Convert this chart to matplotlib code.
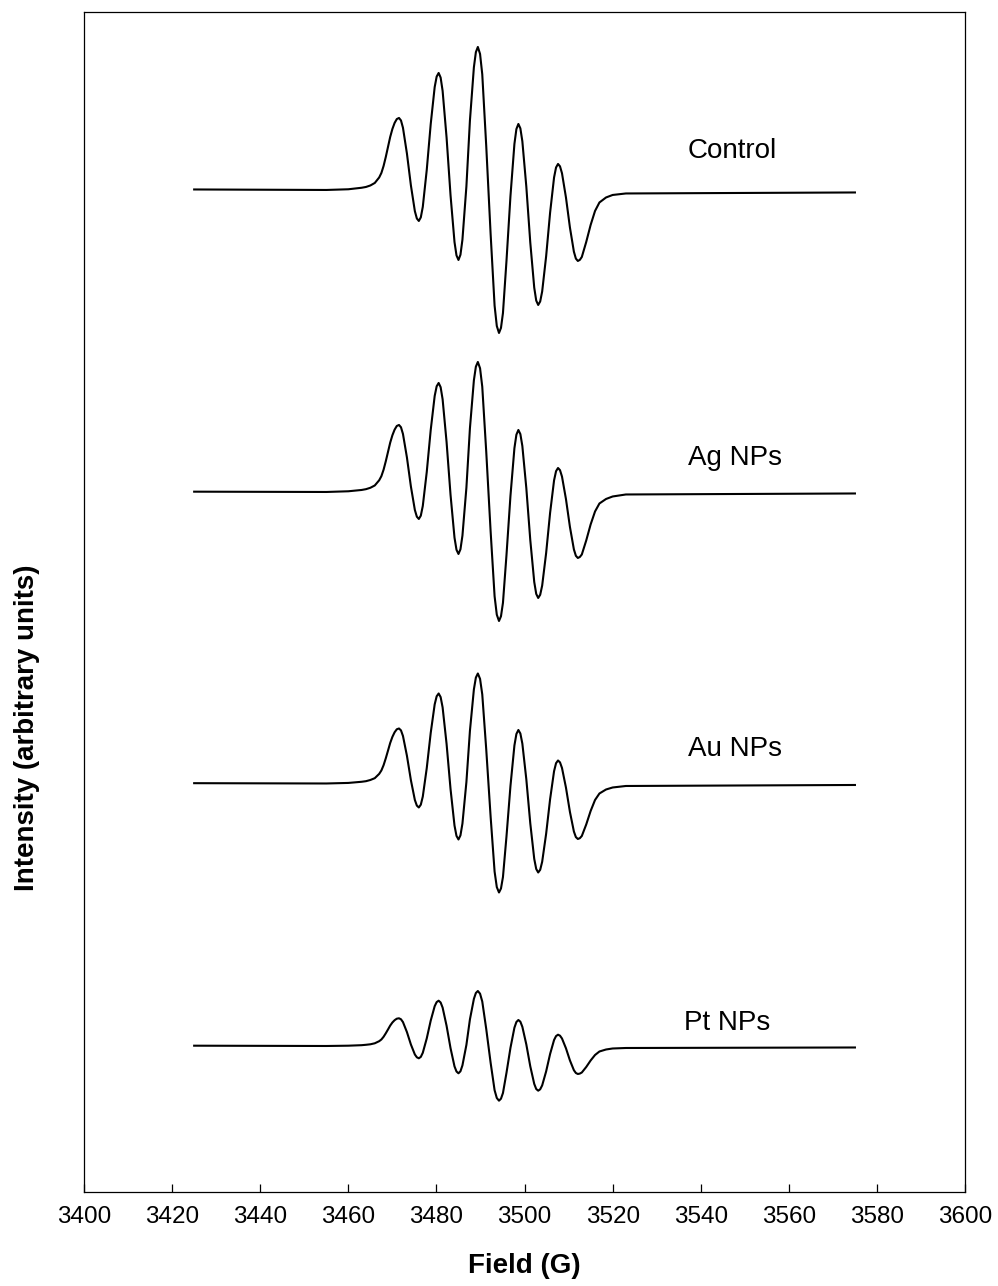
import matplotlib
matplotlib.use("Agg")
import matplotlib.pyplot as plt
import numpy as np

plt.rcParams['font.family'] = ['Liberation Sans', 'DejaVu Sans']

# magnetic field grid (G), shared by all four spectra
field = [3425, 3455, 3460, 3463, 3464, 3465, 3466, 3467, 3467.5, 3468, 3468.5,
         3469, 3469.5, 3470, 3470.5, 3471.0,
         3471.5, 3471.95, 3472.4, 3473.3, 3474.2, 3475.1, 3475.55,
         3476.0, 3476.45, 3476.9, 3477.8, 3478.7, 3479.6, 3480.05,
         3480.5, 3480.95, 3481.4, 3482.3, 3483.2, 3484.1, 3484.55,
         3485.0, 3485.45, 3485.9, 3486.8, 3487.6, 3488.5, 3488.95,
         3489.4, 3489.9, 3490.4, 3491.3, 3492.3, 3493.2, 3493.7,
         3494.2, 3494.65, 3495.1, 3495.9, 3496.8, 3497.7, 3498.15,
         3498.6, 3499.05, 3499.5, 3500.4, 3501.3, 3502.2, 3502.65,
         3503.1, 3503.55, 3504.0, 3504.9, 3505.8, 3506.7, 3507.15,
         3507.6, 3508.05, 3508.5, 3509.4, 3510.3, 3511.2, 3511.65,
         3512.1, 3512.55,
         3513.0, 3514.0, 3515.0, 3516.0, 3517.0, 3518.5, 3520.0, 3523.0, 3575.0]

# EPR signal (arbitrary units, relative to each baseline)
control = [0.5, 0, 0.7, 2.2, 3.0, 4.5, 7.0, 12.5, 17, 24, 33,
           43, 53, 61, 67, 70.9,
           72, 69.5, 62.2, 36.4, 4.6, -21.2, -28.5,
           -31, -27.4, -16.9, 20.1, 65.9, 102.9, 113.4,
           117, 112.4, 99.1, 52.4, -5.4, -52.1, -65.4,
           -70, -64.8, -49.7, 3.6, 69.4, 122.7, 137.8,
           143, 136.0, 115.7, 44.2, -44.2, -115.7, -136.0,
           -143, -137.9, -123, -70.8, -6.2, 46.0, 60.9,
           66, 61.6, 48.7, 3.5, -52.5, -97.7, -110.6,
           -115, -111.5, -101.5, -66.3, -22.7, 12.5, 22.5,
           26, 23.6, 16.7, -7.5, -37.5, -61.7, -68.6,
           -71, -69.9,
           -67, -52, -35, -21, -12.5, -7.5, -5, -3.5, -2.5]

ag_nps = [0.3, 0, 0.7, 2.0, 2.8, 4.2, 6.5, 11.7, 15.8, 22.3, 30.7,
          40.0, 49.3, 56.7, 62.3, 66.0,
          67, 64.7, 58.0, 34.5, 5.5, -18.0, -24.7,
          -27, -23.7, -14.0, 20.0, 62.0, 96.0, 105.7,
          109, 104.8, 92.7, 49.9, -2.9, -45.7, -57.8,
          -62, -57.3, -43.7, 4.3, 63.7, 111.7, 125.3,
          130, 123.7, 105.3, 40.5, -39.5, -104.3, -122.7,
          -129, -124.3, -110.8, -63.0, -4.0, 43.8, 57.3,
          62, 57.9, 46.0, 4.0, -48.0, -90.0, -101.9,
          -106, -102.8, -93.6, -61.1, -20.9, 11.6, 20.8,
          24, 21.8, 15.4, -7.1, -34.9, -57.4, -63.8,
          -66, -65.0,
          -62.5, -48.5, -32.5, -19.5, -11.5, -7, -4.5, -2.5, -1.5]

au_nps = [0.3, 0, 0.55, 1.7, 2.3, 3.5, 5.3, 9.6, 13, 18.3, 25.2,
          32.8, 40.5, 46.6, 51.2, 54.2,
          55, 53.1, 47.5, 27.7, 3.3, -16.5, -22.1,
          -24, -21.2, -13.1, 15.4, 50.6, 79.1, 87.2,
          90, 86.4, 76.1, 39.6, -5.6, -42.1, -52.4,
          -56, -51.9, -40.1, 1.4, 52.6, 94.1, 105.9,
          110, 104.6, 89.1, 34.3, -33.3, -88.1, -103.6,
          -109, -105.0, -93.5, -52.9, -2.6, 38.0, 49.5,
          53.5, 50.0, 39.9, 4.3, -39.8, -75.4, -85.5,
          -89, -86.3, -78.3, -50.3, -15.7, 12.3, 20.3,
          23, 21.1, 15.5, -4.1, -28.4, -48.0, -53.6,
          -55.5, -54.7,
          -52.5, -41, -27.5, -16.5, -10, -6, -4, -2.5, -1.5]

pt_nps = [0.3, 0, 0.3, 0.8, 1.2, 1.7, 2.7, 4.8, 6.5, 9.2, 12.7,
          16.5, 20.4, 23.5, 25.8, 27.3,
          27.7, 26.7, 23.9, 13.9, 1.5, -8.5, -11.3,
          -12.3, -10.9, -6.8, 7.6, 25.4, 39.8, 43.9,
          45.3, 43.5, 38.4, 20.2, -2.2, -20.4, -25.5,
          -27.3, -25.3, -19.4, 1.1, 26.6, 47.1, 53.0,
          55, 52.3, 44.5, 17.1, -16.8, -44.2, -52.0,
          -54.7, -52.7, -47.0, -26.8, -1.9, 18.3, 24.0,
          26, 24.3, 19.2, 1.6, -20.3, -37.9, -43.0,
          -44.7, -43.3, -39.4, -25.4, -8.0, 6.0, 9.9,
          11.3, 10.3, 7.5, -2.3, -14.4, -24.2, -27.0,
          -28, -27.6,
          -26.5, -21, -14.5, -9, -5.5, -3.5, -2.5, -2, -1.5]

names = ['Control', 'Ag NPs', 'Au NPs', 'Pt NPs']
spectra = [control, ag_nps, au_nps, pt_nps]
offsets = [1002, 700, 408.5, 146]

# label placement (field, height above baseline)
label_x = [3537.0, 3537.0, 3537.0, 3536.3]
label_dy = [32, 27, 27.5, 16]

fig = plt.figure(figsize=(9.98, 12.86), dpi=100)
ax = fig.add_axes([0.0842, 0.0731, 0.8828, 0.9176])

for name, spec, off, lx, ldy in zip(names, spectra, offsets, label_x, label_dy):
    ax.plot(field, np.array(spec) + off, color='black', lw=1.5,
            solid_joinstyle='round')
    ax.text(lx, off + ldy, name, fontsize=20, ha='left', va='baseline')

ax.set_xlim(3400, 3600)
ax.set_ylim(0, 1180)
ax.set_xticks(np.arange(3400, 3601, 20))
ax.set_yticks([])
ax.tick_params(axis='x', direction='in', length=5.5, width=0.9,
               labelsize=17.5, pad=10)
for sp in ax.spines.values():
    sp.set_linewidth(0.9)

ax.set_xlabel('Field (G)', fontsize=20, fontweight='bold', labelpad=18)
fig.text(0.027, 0.434, 'Intensity (arbitrary units)', fontsize=20,
         fontweight='bold', rotation=90, ha='center', va='center')

fig.savefig('out.png', dpi=100)
